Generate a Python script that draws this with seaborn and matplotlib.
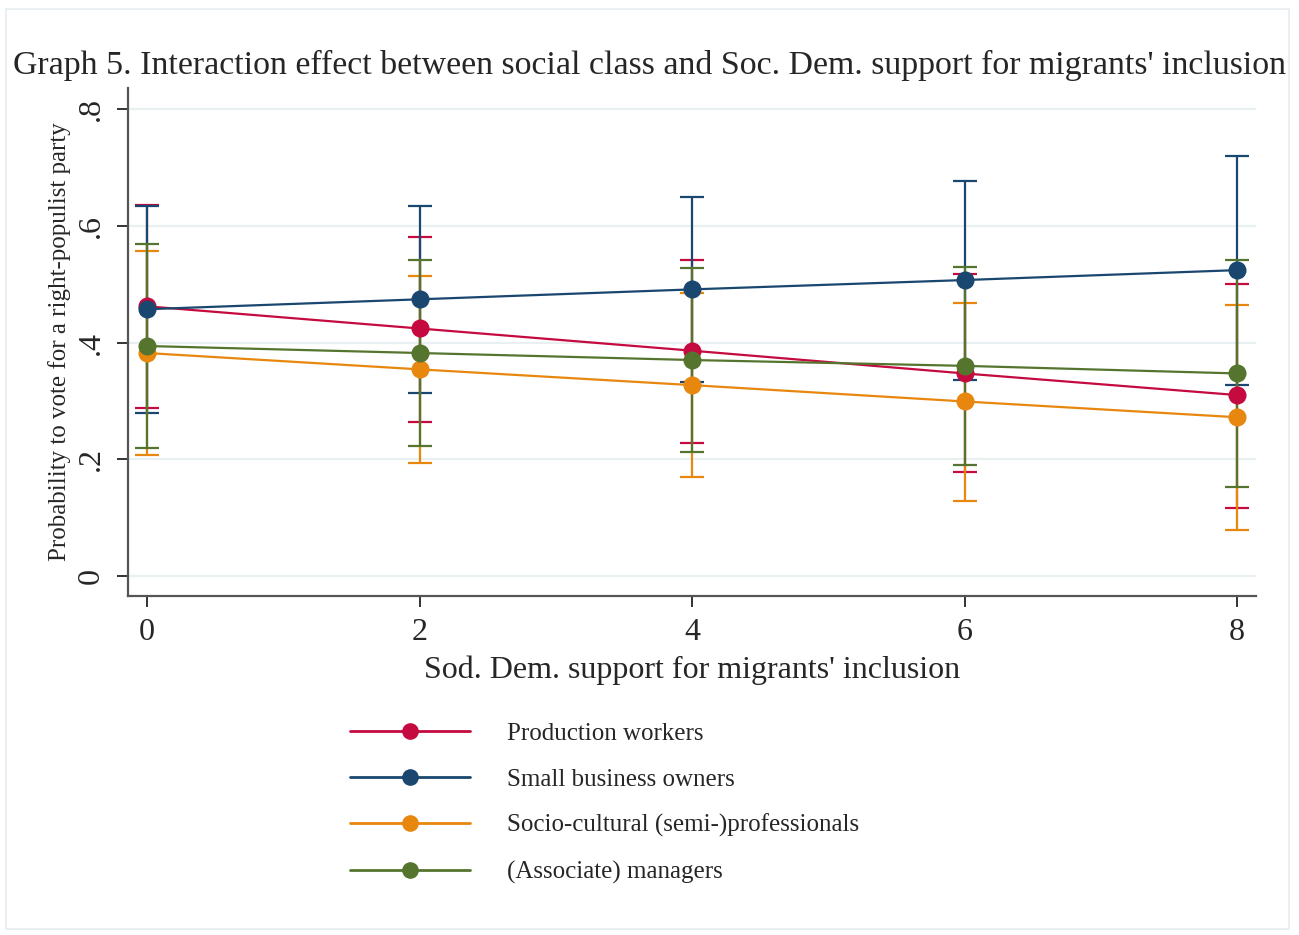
import numpy as np
import pandas as pd
import matplotlib
matplotlib.use("Agg")
import matplotlib.pyplot as plt
import seaborn as sns
from matplotlib.lines import Line2D
from matplotlib.patches import Rectangle

# Predicted probabilities with 95% confidence limits by class
support = [0, 2, 4, 6, 8]
classes = ["Production workers", "Small business owners",
           "Socio-cultural (semi-)professionals", "(Associate) managers"]

prod_mean = [0.462, 0.424, 0.386, 0.347, 0.310]
prod_low = [0.287, 0.263, 0.227, 0.178, 0.117]
prod_high = [0.635, 0.581, 0.541, 0.517, 0.501]

small_mean = [0.457, 0.474, 0.491, 0.507, 0.524]
small_low = [0.279, 0.313, 0.333, 0.336, 0.327]
small_high = [0.634, 0.634, 0.649, 0.677, 0.720]

socio_mean = [0.382, 0.354, 0.327, 0.299, 0.272]
socio_low = [0.207, 0.193, 0.170, 0.129, 0.078]
socio_high = [0.557, 0.514, 0.485, 0.468, 0.465]

mgr_mean = [0.394, 0.382, 0.370, 0.360, 0.347]
mgr_low = [0.219, 0.223, 0.213, 0.190, 0.153]
mgr_high = [0.569, 0.541, 0.528, 0.529, 0.541]

y_ticks = [0, 0.2, 0.4, 0.6, 0.8]
y_tick_labels = ["0", ".2", ".4", ".6", ".8"]

colors = ["#c40a3f", "#1a476f", "#e8870e", "#55752f"]

frames = []
for name, m, lo, hi in zip(classes,
                           [prod_mean, small_mean, socio_mean, mgr_mean],
                           [prod_low, small_low, socio_low, mgr_low],
                           [prod_high, small_high, socio_high, mgr_high]):
    frames.append(pd.DataFrame({"support": support, "prob": m,
                                "low": lo, "high": hi, "cls": name}))
df = pd.concat(frames, ignore_index=True)

sns.set_theme(style="white")
plt.rcParams["font.family"] = ["Liberation Serif", "DejaVu Serif"]

fig = plt.figure(figsize=(12.99, 9.35), dpi=100)
ax = fig.add_axes([128 / 1299, 1 - 596 / 935, (1256 - 128) / 1299, (596 - 88) / 935])

# Light grid lines
for yt in y_ticks:
    ax.axhline(yt, color="#e9f0f2", lw=1.6, zorder=0)

# Confidence intervals first, then lines with markers
for name, col in zip(classes, colors):
    sub = df[df["cls"] == name]
    ax.errorbar(sub["support"], sub["prob"],
                yerr=[sub["prob"] - sub["low"], sub["high"] - sub["prob"]],
                fmt="none", ecolor=col, elinewidth=1.6, capsize=8.5,
                capthick=1.6, zorder=2)

sns.lineplot(data=df, x="support", y="prob", hue="cls", hue_order=classes,
             palette=colors, marker="o", markersize=13, markeredgewidth=0,
             linewidth=1.6, legend=False, ax=ax, zorder=3)

ax.set_xlim(-19 / 136.25, 8 + 19 / 136.25)
ax.set_ylim(-20 / 583.75, 0.836)
ax.set_xticks(support)
ax.set_xticklabels([str(s) for s in support], fontsize=23)
ax.set_yticks(y_ticks)
ax.set_yticklabels(y_tick_labels, fontsize=23, rotation=90, va="center")
ax.tick_params(axis="both", direction="out", length=8, width=1.4,
               color="#333333", left=True, bottom=True, pad=8)

for side in ["top", "right"]:
    ax.spines[side].set_visible(False)
for side in ["left", "bottom"]:
    ax.spines[side].set_color("#555555")
    ax.spines[side].set_linewidth(1.6)

ax.set_xlabel("Sod. Dem. support for migrants' inclusion", fontsize=23, labelpad=6)
ax.set_ylabel("Probability to vote for a right-populist party", fontsize=18, labelpad=4)

fig.text(0.5, 1 - 65 / 935,
         "Graph 5. Interaction effect between social class and Soc. Dem. support for migrants' inclusion",
         ha="center", va="center", fontsize=24.4)

handles = [Line2D([0], [0], color=c, lw=2.0, marker="o", markersize=12,
                  markeredgewidth=0) for c in colors]
fig.legend(handles, classes, loc="upper left",
           bbox_to_anchor=(327 / 1299, 1 - 700 / 935),
           frameon=False, fontsize=18, handlelength=4.8,
           handletextpad=1.5, labelspacing=0.93)

fig.patches.append(Rectangle((6 / 1299, 1 - 929 / 935), 1283 / 1299, 920 / 935,
                             transform=fig.transFigure, fill=False,
                             edgecolor="#e6eef0", lw=1.2))

fig.savefig("out.png", dpi=100, facecolor="white")
